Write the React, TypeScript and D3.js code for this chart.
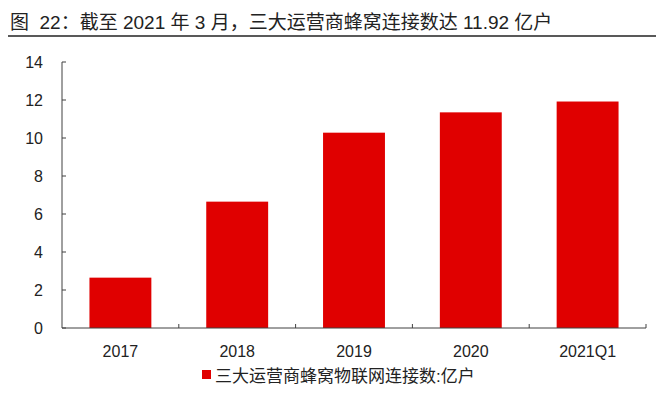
import React from 'react'
import { scaleBand, scaleLinear } from 'd3'

const categories = ['2017', '2018', '2019', '2020', '2021Q1']
const connections = [2.65, 6.65, 10.28, 11.35, 11.92]
const yTicks = [0, 2, 4, 6, 8, 10, 12, 14]

const title = '图  22：截至 2021 年 3 月，三大运营商蜂窝连接数达 11.92 亿户'
const seriesName = '三大运营商蜂窝物联网连接数:亿户'

const W = 656
const H = 395
const font = 'Arial, "Liberation Sans", "Noto Sans CJK SC", sans-serif'

const App = () => {
  const x = scaleBand().domain(categories).range([62, 646]).paddingInner(0.47).paddingOuter(0.235)
  const y = scaleLinear().domain([0, 14]).range([328, 62])
  const axisColor = '#404040'
  const step = (646 - 62) / categories.length

  return (
    <svg width={W} height={H} style={{ position: 'absolute', left: 0, top: 0, background: '#fff' }}>
      <text x={10} y={29} fontSize={19} fontFamily={font} fill="#222" style={{ whiteSpace: 'pre' }}>{title}</text>
      <line x1={8} x2={656} y1={36} y2={36} stroke="#222" strokeWidth={1.5} />

      {connections.map((v, i) => (
        <rect key={categories[i]} x={x(categories[i])} y={y(v)} width={x.bandwidth()} height={y(0) - y(v)} fill="#e00000" />
      ))}

      <line x1={62} x2={62} y1={y(14)} y2={y(0)} stroke={axisColor} />
      {yTicks.map(t => (
        <g key={t}>
          <line x1={62} x2={66} y1={y(t)} y2={y(t)} stroke={axisColor} />
          <text x={43} y={y(t)} dy="0.35em" textAnchor="end" fontSize={16} fontFamily={font} fill="#222">{t}</text>
        </g>
      ))}

      <line x1={62} x2={646} y1={y(0)} y2={y(0)} stroke={axisColor} />
      {categories.map((c, i) => (
        <g key={c}>
          <line x1={62 + step * (i + 1)} x2={62 + step * (i + 1)} y1={y(0)} y2={y(0) - 4} stroke={axisColor} />
          <text x={(x(c) ?? 0) + x.bandwidth() / 2} y={357} textAnchor="middle" fontSize={16} fontFamily={font} fill="#222">{c}</text>
        </g>
      ))}

      <rect x={202} y={370} width={9} height={9} fill="#e00000" />
      <text x={215} y={382} fontSize={17} fontFamily={font} fill="#222">{seriesName}</text>
    </svg>
  )
}

export default App
